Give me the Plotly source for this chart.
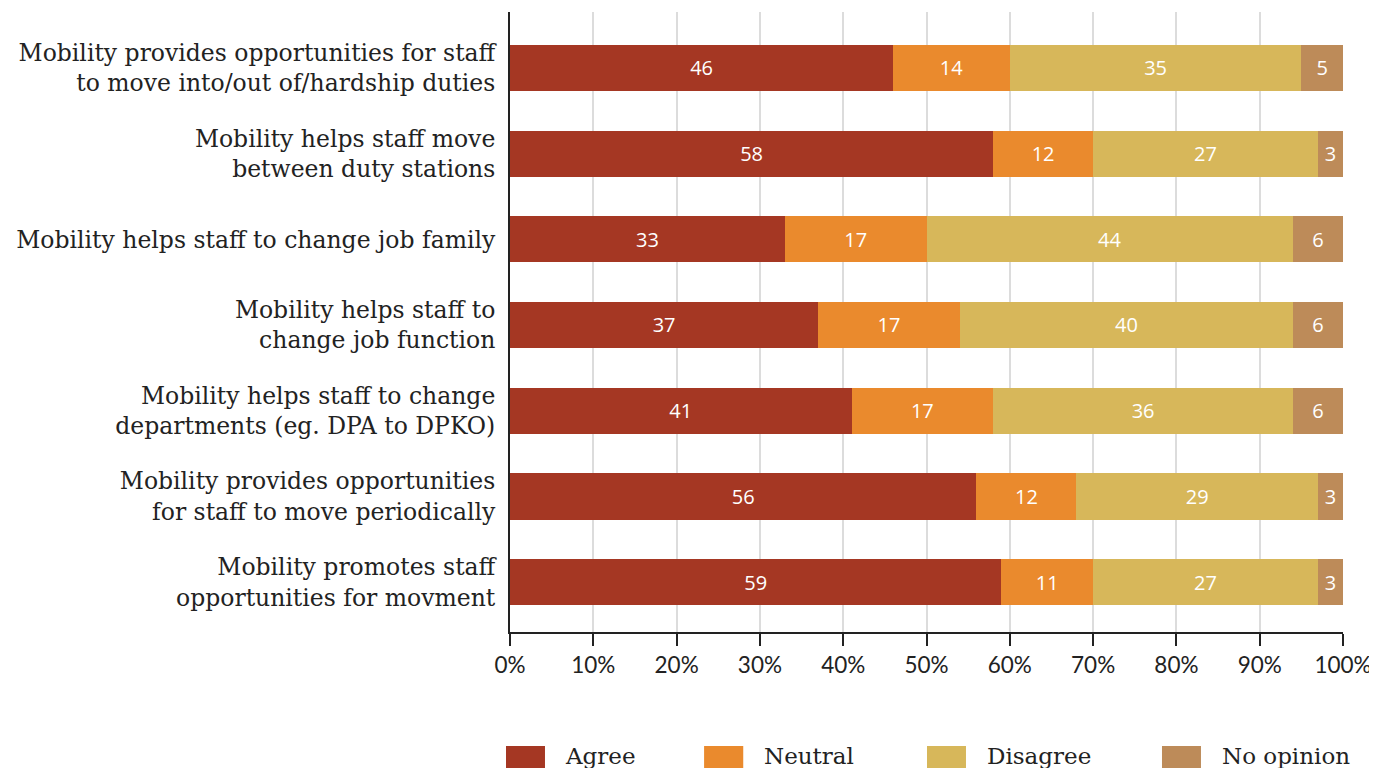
import plotly.graph_objects as go

categories = [
    "Mobility provides opportunities for staff<br>to move into/out of/hardship duties",
    "Mobility helps staff move<br>between duty stations",
    "Mobility helps staff to change job family",
    "Mobility helps staff to<br>change job function",
    "Mobility helps staff to change<br>departments (eg. DPA to DPKO)",
    "Mobility provides opportunities<br>for staff to move periodically",
    "Mobility promotes staff<br>opportunities for movment",
]
series_names = ["Agree", "Neutral", "Disagree", "No opinion"]
agree = [46, 58, 33, 37, 41, 56, 59]
neutral = [14, 12, 17, 17, 17, 12, 11]
disagree = [35, 27, 44, 40, 36, 29, 27]
no_opinion = [5, 3, 6, 6, 6, 3, 3]
x_ticks = [0, 10, 20, 30, 40, 50, 60, 70, 80, 90, 100]
x_tick_labels = [f"{v}%" for v in x_ticks]

series_values = [agree, neutral, disagree, no_opinion]
colors = ["#A53723", "#EA8A2D", "#D7B75A", "#BD8B59"]

fig = go.Figure()
for name, vals, col in zip(series_names, series_values, colors):
    fig.add_trace(go.Bar(
        y=categories, x=vals, name=name, orientation="h",
        marker=dict(color=col, line=dict(width=0)),
        text=[str(v) for v in vals], textposition="inside",
        insidetextanchor="middle", textangle=0,
        textfont=dict(family="Open Sans", size=20, color="white"),
        constraintext="none", width=0.54, showlegend=False,
    ))

# custom legend (large squares)
leg_sq = [(-0.0048, 0.042), (0.233, 0.280), (0.5006, 0.5474), (0.7827, 0.8295)]
leg_tx = [0.0636, 0.3025, 0.5702, 0.8523]
for name, col, (a, b), tx in zip(series_names, colors, leg_sq, leg_tx):
    fig.add_shape(type="rect", xref="paper", yref="paper", x0=a, x1=b,
                  y0=-0.235, y1=-0.1839, fillcolor=col, line=dict(width=0))
    fig.add_annotation(xref="paper", yref="paper", x=tx, y=-0.2,
                       xanchor="left", yanchor="middle", text=name, showarrow=False,
                       font=dict(family="DejaVu Serif", size=23, color="#222"))

fig.update_layout(
    barmode="stack",
    width=1369, height=760,
    margin=dict(l=502, r=34, t=4, b=136),
    plot_bgcolor="white", paper_bgcolor="white",
    xaxis=dict(range=[0, 100], tickmode="array", tickvals=x_ticks, ticktext=x_tick_labels,
               showgrid=True, gridcolor="#DCDCDC", gridwidth=1.5,
               showline=True, linecolor="#222", linewidth=2,
               ticks="outside", ticklen=12, tickwidth=2, tickcolor="#222",
               ticklabeloverflow="allow",
               tickfont=dict(family="Lato", size=22.5, color="#222"),
               zeroline=False, fixedrange=True),
    yaxis=dict(range=[6.583, -0.653], showline=True, linecolor="#222", linewidth=2,
               showgrid=False, ticks="", ticklabelstandoff=8,
               tickfont=dict(family="DejaVu Serif", size=23.5, color="#222"),
               fixedrange=True),
    uniformtext=dict(mode=False),
)

fig.write_html("out.html")
